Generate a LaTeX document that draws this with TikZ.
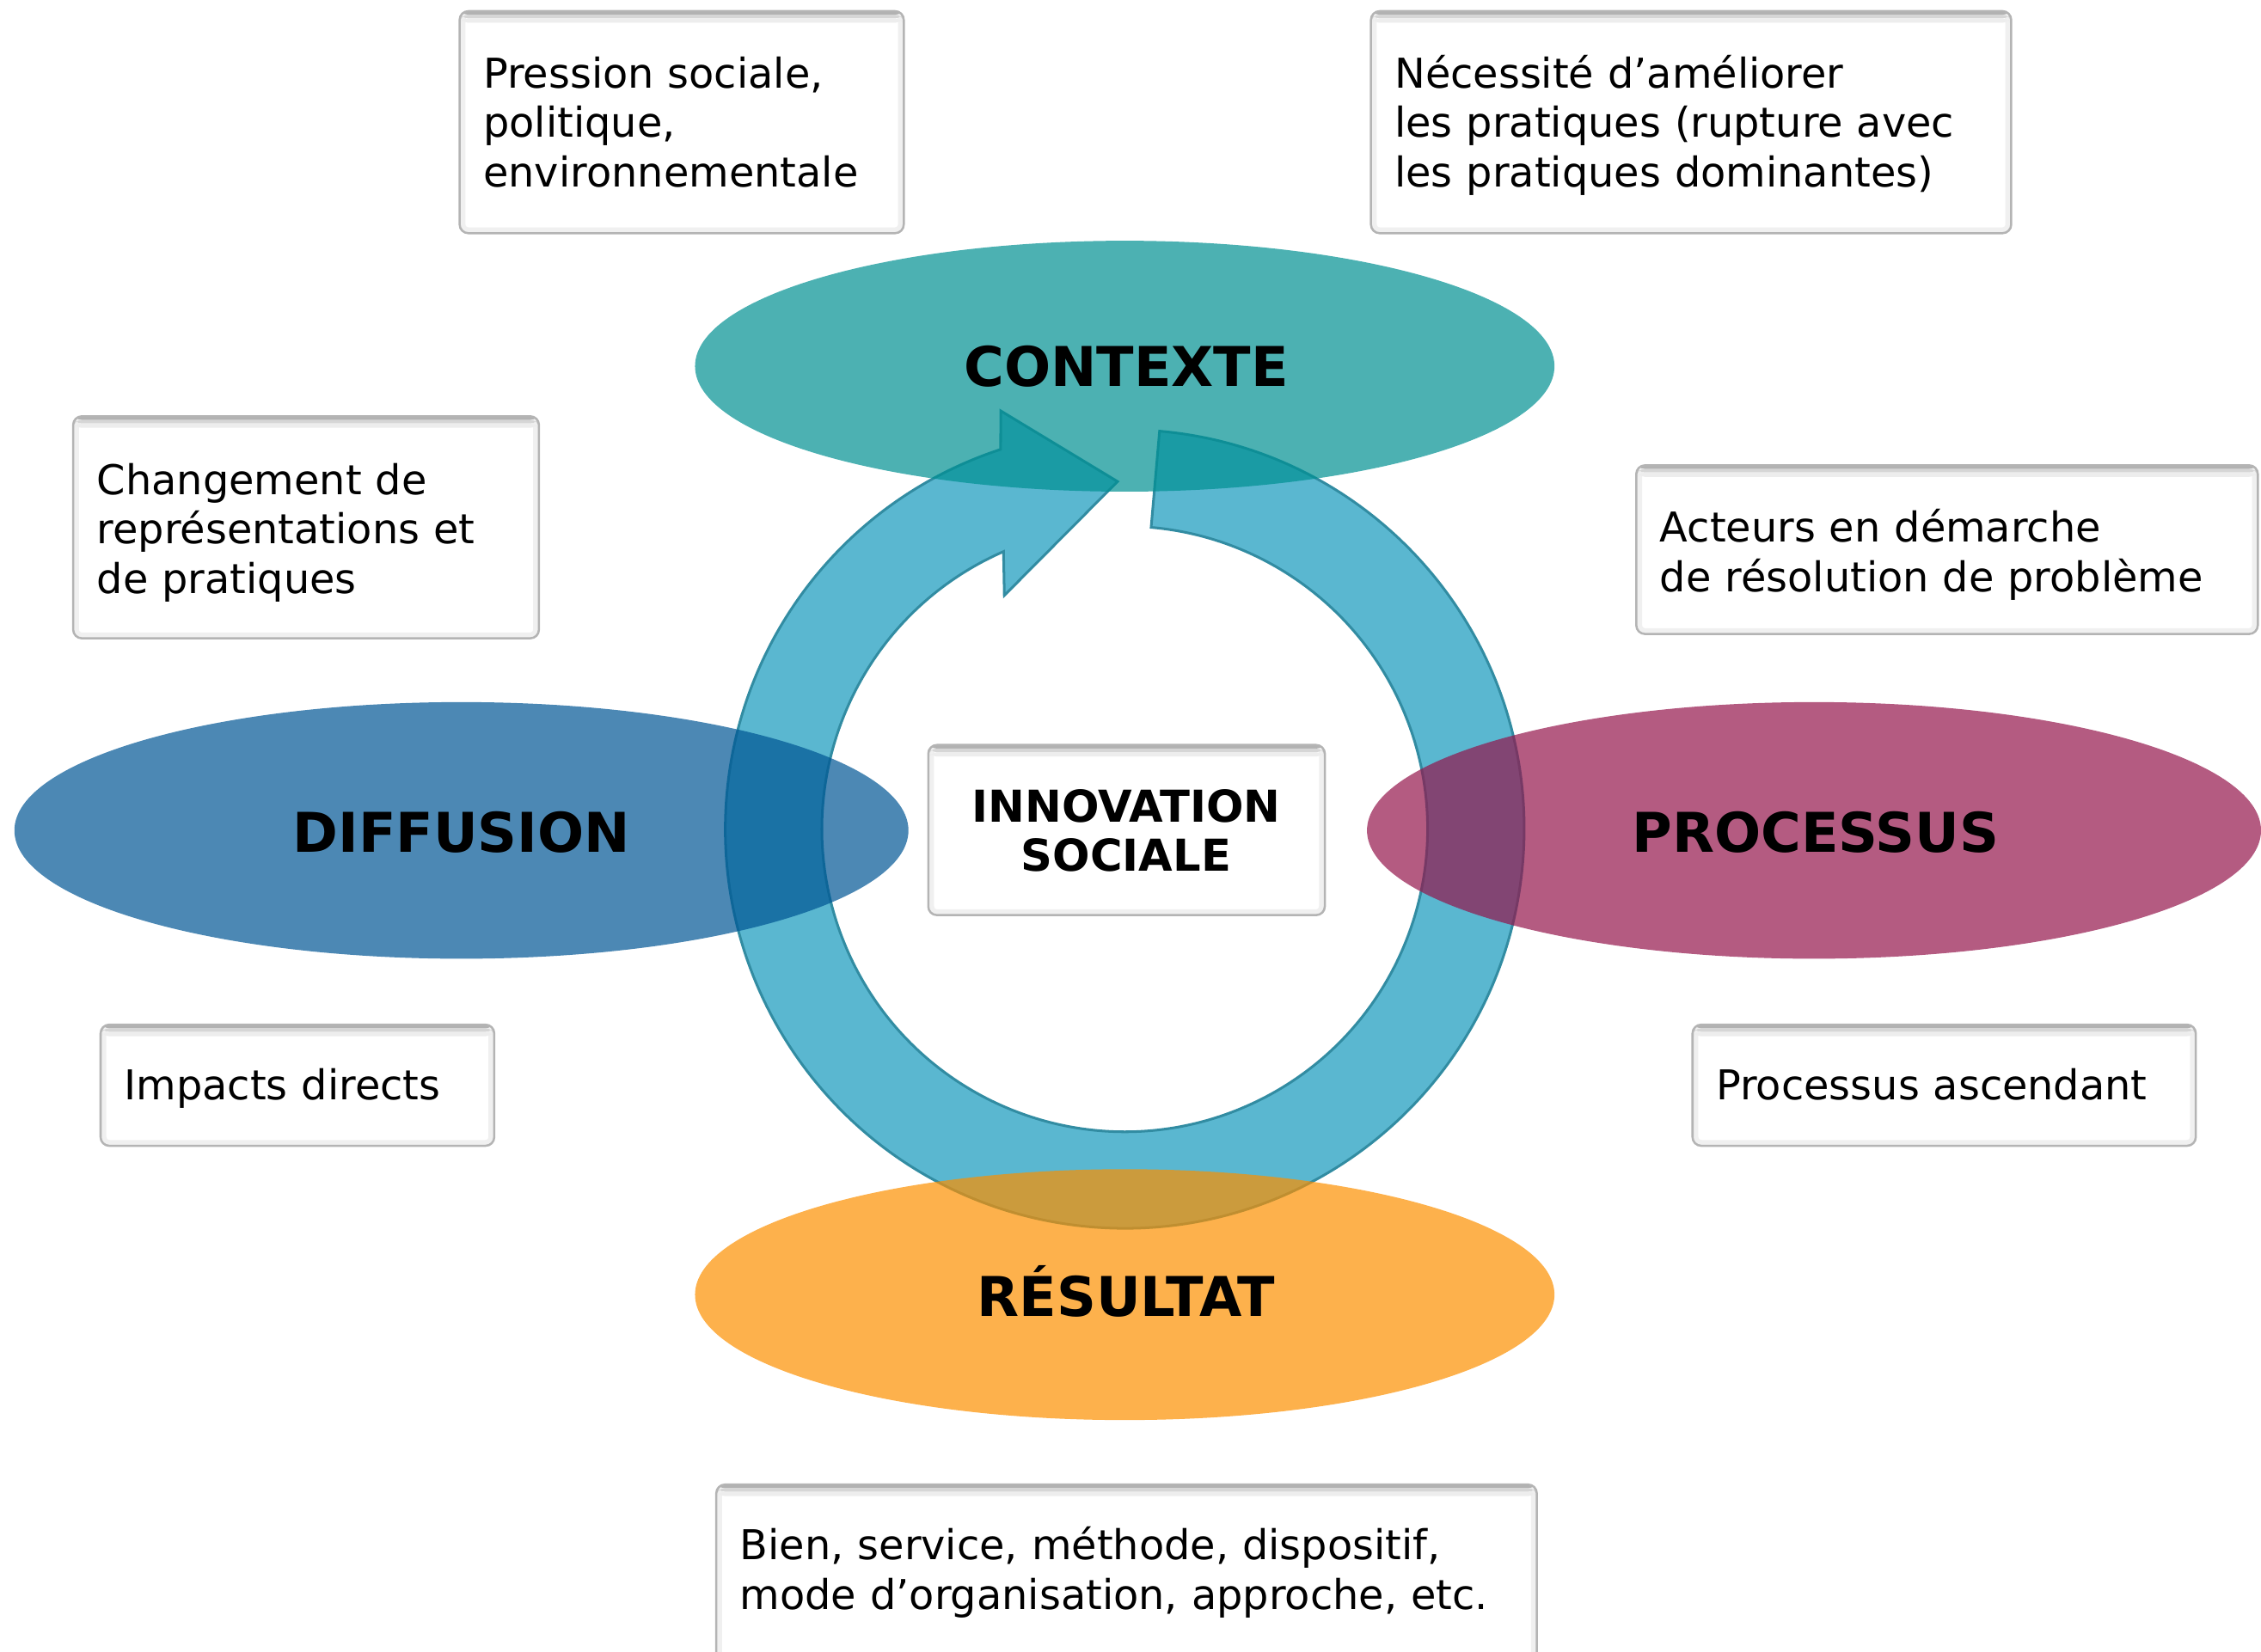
\documentclass[tikz,border=0pt]{standalone}
\usepackage{fontspec}
\setmainfont{DejaVu Sans}
\usetikzlibrary{shapes.geometric,calc}
\definecolor{ctxcol}{RGB}{0,144,146}
\definecolor{difcol}{RGB}{0,86,148}
\definecolor{procol}{RGB}{148,22,76}
\definecolor{rescol}{RGB}{252,144,0}
\definecolor{ringfill}{RGB}{90,183,208}
\definecolor{ringline}{RGB}{50,140,162}
\definecolor{boxgray}{RGB}{180,180,180}
\begin{document}
\begin{tikzpicture}[x=1pt,y=1pt,
  box/.style={draw=boxgray, line width=1.5pt, fill=white, rounded corners=6pt, inner sep=0pt,
    path picture={
      \draw[black!6, line width=8pt, rounded corners=6pt]
        (path picture bounding box.south west) rectangle (path picture bounding box.north east);
      \fill[black!30] (path picture bounding box.north west) rectangle ([yshift=-2.5pt]path picture bounding box.north east);
      \fill[black!16] ([yshift=-2.5pt]path picture bounding box.north west) rectangle ([yshift=-5pt]path picture bounding box.north east);
      \fill[black!7] ([yshift=-5pt]path picture bounding box.north west) rectangle ([yshift=-8pt]path picture bounding box.north east);
    }},
  boxtxt/.style={inner sep=0pt, text width=620pt, align=left, font=\fontsize{28.5}{34.3}\selectfont},
  oval/.style={ellipse, inner sep=0pt, fill opacity=0.7, draw=none},
  ovaltxt/.style={inner sep=0pt, anchor=base, font=\fontsize{38}{40}\selectfont\bfseries},
  centertxt/.style={inner sep=0pt, anchor=base, font=\fontsize{30.5}{34}\selectfont\bfseries},
  ring/.style={fill=ringfill, draw=ringline, line width=1.8pt, line join=miter}
]
\useasboundingbox (0,-1145.3) rectangle (1568,0);
\clip (0,-1145.3) rectangle (1568,0);

% circular arrow
\coordinate (C) at (780,-575);
\coordinate (headtop) at (694,-285);
\coordinate (headtip) at (775,-334);
\coordinate (headbot) at (696.5,-413);
\path[ring] ($(C)+(85:277)$) arc[start angle=85, end angle=-251.9, radius=277pt]
  -- (headtop) -- (headtip) -- (headbot)
  -- ($(C)+(113.6:210)$) arc[start angle=113.6, end angle=445, radius=210pt] -- cycle;

% ellipses
\node[oval, fill=ctxcol, minimum width=596pt, minimum height=174pt] (ctx) at (780,-254) {};
\node[oval, fill=difcol, minimum width=620pt, minimum height=178pt] (dif) at (320,-576) {};
\node[oval, fill=procol, minimum width=620pt, minimum height=178pt] (pro) at (1258,-576) {};
\node[oval, fill=rescol, minimum width=596pt, minimum height=174pt] (res) at (780,-898) {};

\node[ovaltxt] (ctxt) at (781,-268) {CONTEXTE};
\node[ovaltxt] (dift) at (320,-591) {DIFFUSION};
\node[ovaltxt] (prot) at (1259,-591) {PROCESSUS};
\node[ovaltxt] (rest) at (781,-913) {RÉSULTAT};

% center box
\node[box, minimum width=275pt, minimum height=118pt, anchor=north west] (cb) at (643,-516) {};
\node[centertxt] (cbt1) at (781,-570) {INNOVATION};
\node[centertxt] (cbt2) at (781,-604) {SOCIALE};

% text boxes
\node[box, minimum width=308pt, minimum height=154pt, anchor=north west] (b1) at (318,-7) {};
\node[boxtxt, anchor=base west] (t1) at (335,-61) {Pression sociale,\\politique,\\environnementale};

\node[box, minimum width=444pt, minimum height=154pt, anchor=north west] (b2) at (950,-7) {};
\node[boxtxt, anchor=base west] (t2) at (967,-61) {Nécessité d’améliorer\\les pratiques (rupture avec\\les pratiques dominantes)};

\node[box, minimum width=323pt, minimum height=154pt, anchor=north west] (b3) at (50,-288) {};
\node[boxtxt, anchor=base west] (t3) at (67,-343) {Changement de\\représentations et\\de pratiques};

\node[box, minimum width=431pt, minimum height=117pt, anchor=north west] (b4) at (1134,-322) {};
\node[boxtxt, anchor=base west] (t4) at (1151,-376) {Acteurs en démarche\\de résolution de problème};

\node[box, minimum width=273pt, minimum height=84pt, anchor=north west] (b5) at (69,-710) {};
\node[boxtxt, anchor=base west] (t5) at (86,-763) {Impacts directs};

\node[box, minimum width=349pt, minimum height=84pt, anchor=north west] (b6) at (1173,-710) {};
\node[boxtxt, anchor=base west] (t6) at (1190,-763) {Processus ascendant};

\node[box, minimum width=569pt, minimum height=130pt, anchor=north west] (b7) at (496,-1029) {};
\node[boxtxt, anchor=base west] (t7) at (513,-1082) {Bien, service, méthode, dispositif,\\mode d’organisation, approche, etc.};
\end{tikzpicture}
\end{document}
